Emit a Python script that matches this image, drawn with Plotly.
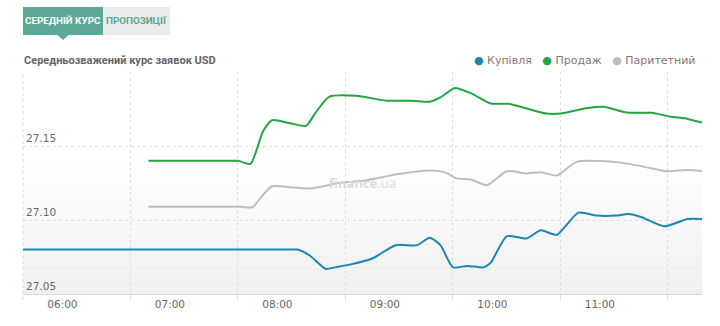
import plotly.graph_objects as go

DAY = "2024-05-14 "

# Купівля (buy)
buy_t = ["05:38", "07:00", "08:05", "08:11", "08:18", "08:27", "08:32", "08:41", "08:53", "09:06", "09:18", "09:25",
         "09:31", "09:38", "09:46", "09:55", "09:59", "10:08", "10:19", "10:27", "10:36", "10:48",
         "10:58", "11:09", "11:16", "11:23", "11:36", "11:49", "11:57"]
buy_v = [27.080, 27.080, 27.080, 27.080, 27.076, 27.067, 27.068, 27.070, 27.074, 27.083, 27.083, 27.088,
         27.083, 27.068, 27.069, 27.068, 27.071, 27.089, 27.0875, 27.093, 27.090, 27.105,
         27.103, 27.103, 27.104, 27.102, 27.0957, 27.1007, 27.1007]

# Продаж (sell)
sell_t = ["06:48", "07:30", "07:38", "07:45", "07:52", "07:57", "08:07", "08:16", "08:21", "08:29", "08:44",
          "09:01", "09:15", "09:25", "09:31", "09:39", "09:49", "09:59", "10:09", "10:30", "10:38",
          "10:53", "11:02", "11:15", "11:29", "11:39", "11:49", "11:57"]
sell_v = [27.140, 27.140, 27.140, 27.138, 27.160, 27.1674, 27.1654, 27.1636, 27.172, 27.1833, 27.1839,
          27.1806, 27.1806, 27.1799, 27.1828, 27.1892, 27.1851, 27.1787, 27.1785, 27.1719, 27.1719,
          27.1756, 27.1765, 27.1726, 27.1724, 27.1699, 27.1683, 27.1658]

# Паритетний (parity)
par_t = ["06:48", "07:30", "07:39", "07:46", "07:52", "07:57", "08:07", "08:18", "08:35", "08:49", "09:06",
         "09:26", "09:34", "09:40", "09:48", "09:57", "10:08", "10:19", "10:27", "10:36", "10:47",
         "11:07", "11:23", "11:37", "11:49", "11:57"]
par_v = [27.109, 27.109, 27.109, 27.1086, 27.117, 27.1228, 27.1222, 27.1213, 27.1251, 27.1267, 27.1308,
         27.1335, 27.1320, 27.1281, 27.1274, 27.1235, 27.133, 27.1315, 27.1323, 27.1301, 27.1393,
         27.1393, 27.1364, 27.133, 27.1337, 27.133]

hour_ticks = ["06:00", "07:00", "08:00", "09:00", "10:00", "11:00"]
y_ticks = [27.05, 27.10, 27.15, 27.20]
y_labels = ["27.05", "27.10", "27.15", ""]

x_range = [DAY + "05:38", DAY + "11:57"]
y_range = [27.05, 27.20]

BLUE = "#1a86b8"
GREEN = "#22a63f"
GRAY = "#bdbdbd"
TEAL = "#5aa895"
GRID = "#dcdcdc"

W, H = 720, 326
ML, MR, MT, MB = 23, 18, 72, 32
PW, PH = W - ML - MR, H - MT - MB


def px(x):
    return (x - ML) / PW


def py(y):
    return (H - MB - y) / PH


fig = go.Figure()
for name, t, v, c, xa in [("Паритетний", par_t, par_v, GRAY, "x2"),
                          ("Купівля", buy_t, buy_v, BLUE, "x"),
                          ("Продаж", sell_t, sell_v, GREEN, "x")]:
    fig.add_trace(go.Scatter(x=[DAY + s for s in t], y=v, name=name, mode="lines",
                             line=dict(color=c, width=2, shape="spline", smoothing=0.6),
                             xaxis=xa, yaxis="y", showlegend=False))

# background gradient bands (white at top to light gray at bottom)
shapes = []
n = 24
start = 0.6
for i in range(n):
    y0 = start * i / n
    y1 = start * (i + 1) / n
    g = int(round(239 + (255 - 239) * (i + 0.5) / n))
    shapes.append(dict(type="rect", xref="x domain", yref="y domain", x0=0, x1=1, y0=y0, y1=y1,
                       fillcolor=f"rgb({g},{g},{g})", line=dict(width=0), layer="below"))

# dashed left border of the plot area (first vertical grid line)
shapes.append(dict(type="line", xref="x domain", yref="paper", x0=0, x1=0, y0=py(300), y1=1,
                   line=dict(color=GRID, width=1, dash="3px,3px"), layer="below"))

# tabs
shapes.append(dict(type="rect", xref="paper", yref="paper", x0=px(23), x1=px(103), y0=py(35), y1=py(7),
                   fillcolor=TEAL, line=dict(width=0)))
shapes.append(dict(type="rect", xref="paper", yref="paper", x0=px(103), x1=px(170), y0=py(35), y1=py(7),
                   fillcolor="#ebebeb", line=dict(width=0)))
shapes.append(dict(type="path", xref="paper", yref="paper",
                   path=f"M {px(57)},{py(34.5)} L {px(69)},{py(34.5)} L {px(63)},{py(40)} Z",
                   fillcolor=TEAL, line=dict(width=0)))

annotations = [
    dict(text="<b>СЕРЕДНІЙ КУРС</b>", x=px(63), y=py(21), xref="paper", yref="paper",
         showarrow=False, xanchor="center", yanchor="middle",
         font=dict(family="Roboto", size=9.8, color="white")),
    dict(text="<b>ПРОПОЗИЦІЇ</b>", x=px(136.5), y=py(21), xref="paper", yref="paper",
         showarrow=False, xanchor="center", yanchor="middle",
         font=dict(family="Roboto", size=9.8, color=TEAL)),
    dict(text="<b>Середньозважений курс заявок USD</b>", x=px(22), y=py(60), xref="paper", yref="paper",
         showarrow=False, xanchor="left", yanchor="middle",
         font=dict(family="Roboto", size=11, color="#666666")),
    dict(text=(f'<span style="color:{BLUE}">●</span> Купівля   '
               f'<span style="color:{GREEN}">●</span> Продаж   '
               f'<span style="color:{GRAY}">●</span> Паритетний'),
         x=px(697), y=py(60), xref="paper", yref="paper",
         showarrow=False, xanchor="right", yanchor="middle",
         font=dict(family="DejaVu Sans", size=11, color="#8a7670")),
    dict(text="<b>finance</b>.ua", x=px(362), y=py(183), xref="paper", yref="paper",
         showarrow=False, xanchor="center", yanchor="middle",
         font=dict(family="Open Sans", size=13, color="#dadada")),
]

fig.update_layout(
    width=W, height=H,
    margin=dict(l=ML, r=MR, t=MT, b=MB),
    paper_bgcolor="white", plot_bgcolor="rgba(0,0,0,0)",
    showlegend=False,
    shapes=shapes, annotations=annotations,
    xaxis=dict(type="date", range=x_range, tickvals=[DAY + h for h in hour_ticks],
               tickformat="%H:%M", showgrid=False, zeroline=False,
               showline=True, linecolor="#d8d8d8", linewidth=1,
               ticks="", tickfont=dict(family="DejaVu Sans", size=10.5, color="#666666")),
    xaxis2=dict(type="date", range=x_range, overlaying="x", anchor="y", side="bottom",
                tick0=DAY + "05:38", dtick=3600000, showticklabels=False,
                showgrid=True, gridcolor=GRID, griddash="3px,3px", gridwidth=1,
                ticks="outside", ticklen=6, tickcolor="#e0e0e0", zeroline=False, showline=False),
    yaxis=dict(range=y_range, tickvals=y_ticks, ticktext=y_labels,
               ticklabelposition="inside top", showgrid=True, gridcolor=GRID,
               griddash="3px,3px", gridwidth=1, zeroline=False, ticks="",
               tickfont=dict(family="DejaVu Sans", size=10.5, color="#666666")),
)

fig.write_html("out.html")
